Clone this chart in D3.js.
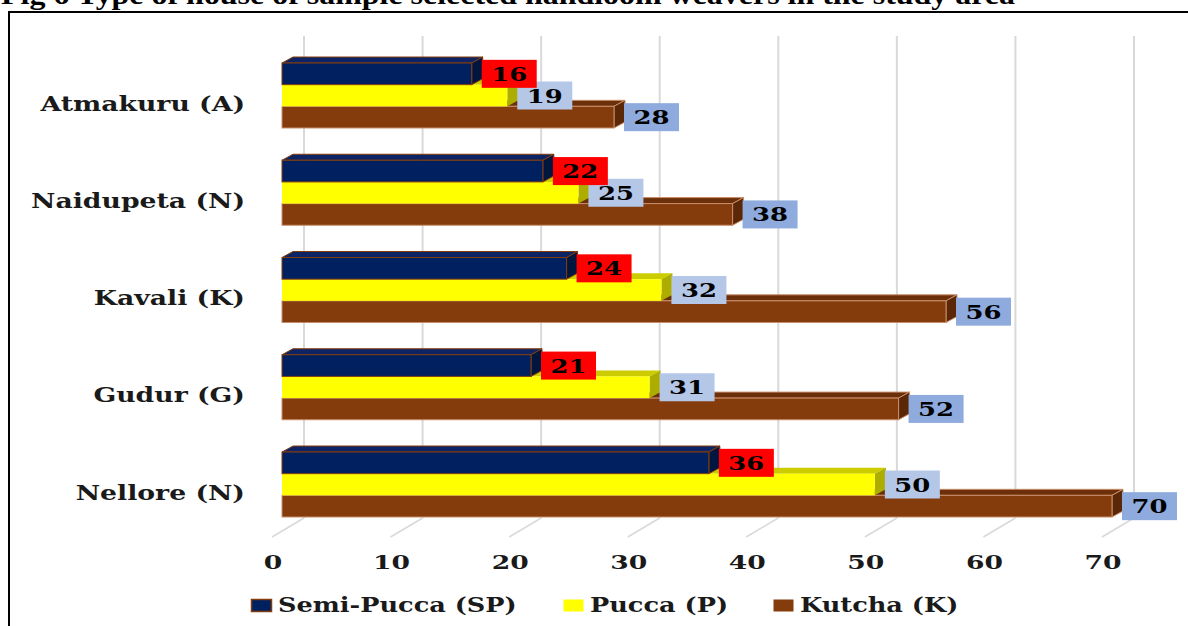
<!DOCTYPE html>
<html>
<head>
<meta charset="utf-8">
<script src="https://cdn.jsdelivr.net/npm/d3@7"></script>
<style>
  html, body { margin: 0; padding: 0; background: #fff; }
  svg { display: block; }
</style>
</head>
<body>
<div id="chart"></div>
<script>
var categories = ["Atmakuru (A)", "Naidupeta (N)", "Kavali (K)", "Gudur (G)", "Nellore (N)"];
var seriesNames = ["Semi-Pucca (SP)", "Pucca (P)", "Kutcha (K)"];
var semiPucca = [16, 22, 24, 21, 36];
var pucca = [19, 25, 32, 31, 50];
var kutcha = [28, 38, 56, 52, 70];
var tickValues = [0, 10, 20, 30, 40, 50, 60, 70];

var W = 1188, H = 626;
var depthX = 11, depthY = -6;      // 3d offset of the bars
var wallX = 22;                    // back wall offset from the bar front
var wordStretch = 1.22, catStretch = 1.27, digitStretch = 1.4;

var styles = [
    {front: "#002060", top: "#0d2464", side: "#00163f", stroke: "#843c0c", box: "#ff0000"},
    {front: "#ffff00", top: "#cccc00", side: "#adad00", stroke: "none", box: "#b4c7e7"},
    {front: "#843c0c", top: "#6b300a", side: "#5a2707", stroke: "#c98d6a", box: "#8faadc"}
];
var allSeries = [semiPucca, pucca, kutcha];

var svg = d3.select("#chart").append("svg")
    .attr("width", W)
    .attr("height", H);

// page title, only its lower part is visible
svg.append("text")
    .attr("x", 1)
    .attr("y", 4)
    .attr("textLength", 1014)
    .attr("lengthAdjust", "spacingAndGlyphs")
    .style("font-family", "'Liberation Serif', 'Times New Roman', serif")
    .style("font-weight", "bold")
    .style("font-size", "28px")
    .text("Fig 6 Type of house of sample selected handloom weavers in the study area");

// frame
svg.append("path")
    .attr("d", "M9," + H + "V12H" + W)
    .attr("fill", "none")
    .attr("stroke", "#000")
    .attr("stroke-width", 2);

var xScale = d3.scaleLinear().domain([0, 70]).range([282, 1112]);
var yScale = d3.scalePoint().domain(categories).range([95.5, 484.5]);
var inner = d3.scaleBand().domain(seriesNames).range([-32.5, 32.5]);

var g = svg.append("g");

// back wall grid lines and floor lines
g.selectAll(".grid")
    .data(tickValues)
    .enter()
    .append("line")
    .attr("class", "grid")
    .attr("x1", function (d) { return xScale(d) + wallX; })
    .attr("x2", function (d) { return xScale(d) + wallX; })
    .attr("y1", 36)
    .attr("y2", 518)
    .attr("stroke", "#d9d9d9")
    .attr("stroke-width", 2);

g.selectAll(".floor")
    .data(tickValues)
    .enter()
    .append("line")
    .attr("class", "floor")
    .attr("x1", function (d) { return xScale(d) + wallX; })
    .attr("x2", function (d) { return xScale(d) - 10; })
    .attr("y1", 518)
    .attr("y2", 537)
    .attr("stroke", "#d9d9d9")
    .attr("stroke-width", 1.5);

// bars, bottom series first so the upper ones cover the top faces
for (var s = allSeries.length - 1; s >= 0; s--) {
    var st = styles[s];
    var rows = categories.map(function (c, i) { return {cat: c, v: allSeries[s][i]}; });
    var bar = g.selectAll(".bar" + s)
        .data(rows)
        .enter()
        .append("g")
        .attr("class", "bar" + s);

    bar.append("path")
        .attr("d", function (d) {
            var x0 = xScale(0), x1 = xScale(d.v), y0 = yScale(d.cat) + inner(seriesNames[s]);
            return "M" + x0 + "," + y0 + "L" + (x0 + depthX) + "," + (y0 + depthY) +
                "L" + (x1 + depthX) + "," + (y0 + depthY) + "L" + x1 + "," + y0 + "Z";
        })
        .attr("fill", st.top)
        .attr("stroke", st.stroke)
        .attr("stroke-width", 1);

    bar.append("path")
        .attr("d", function (d) {
            var x1 = xScale(d.v), y0 = yScale(d.cat) + inner(seriesNames[s]), h = inner.bandwidth();
            return "M" + x1 + "," + y0 + "L" + (x1 + depthX) + "," + (y0 + depthY) +
                "L" + (x1 + depthX) + "," + (y0 + depthY + h) + "L" + x1 + "," + (y0 + h) + "Z";
        })
        .attr("fill", st.side)
        .attr("stroke", st.stroke)
        .attr("stroke-width", 1);

    bar.append("rect")
        .attr("x", xScale(0))
        .attr("y", function (d) { return yScale(d.cat) + inner(seriesNames[s]); })
        .attr("width", function (d) { return xScale(d.v) - xScale(0); })
        .attr("height", inner.bandwidth())
        .attr("fill", st.front)
        .attr("stroke", st.stroke)
        .attr("stroke-width", 1);
}

// value boxes
for (var k = allSeries.length - 1; k >= 0; k--) {
    var rowsL = categories.map(function (c, i) { return {cat: c, v: allSeries[k][i]}; });
    var lab = g.selectAll(".lab" + k)
        .data(rowsL)
        .enter()
        .append("g")
        .attr("class", "lab" + k)
        .attr("transform", function (d) {
            var cy = yScale(d.cat) + inner(seriesNames[k]) + inner.bandwidth() / 2;
            return "translate(" + (xScale(d.v) + 10) + "," + cy + ")";
        });

    lab.append("rect")
        .attr("x", 0)
        .attr("y", -14)
        .attr("width", 55)
        .attr("height", 28)
        .attr("fill", styles[k].box);

    lab.append("text")
        .attr("transform", "translate(27.5,7) scale(" + digitStretch + ",1)")
        .attr("text-anchor", "middle")
        .style("font-family", "'DejaVu Serif', serif")
        .style("font-weight", "bold")
        .style("font-size", "18.5px")
        .attr("fill", "#000")
        .text(function (d) { return d.v; });
}

// category labels
g.selectAll(".cat")
    .data(categories)
    .enter()
    .append("text")
    .attr("class", "cat")
    .attr("transform", function (d) { return "translate(245," + (yScale(d) + 15) + ") scale(" + catStretch + ",1)"; })
    .attr("text-anchor", "end")
    .style("font-family", "'DejaVu Serif', serif")
    .style("font-weight", "bold")
    .style("font-size", "21px")
    .attr("fill", "#1a1a1a")
    .text(function (d) { return d; });

// x tick labels
g.selectAll(".tick")
    .data(tickValues)
    .enter()
    .append("text")
    .attr("class", "tick")
    .attr("transform", function (d) { return "translate(" + (xScale(d) - 9) + ",569) scale(" + digitStretch + ",1)"; })
    .attr("text-anchor", "middle")
    .style("font-family", "'DejaVu Serif', serif")
    .style("font-weight", "bold")
    .style("font-size", "19px")
    .attr("fill", "#1a1a1a")
    .text(function (d) { return d; });

// legend
var legendX = [251, 563, 773];
var legend = g.selectAll(".legend")
    .data(seriesNames)
    .enter()
    .append("g")
    .attr("class", "legend")
    .attr("transform", function (d, i) { return "translate(" + legendX[i] + ",599)"; });

legend.append("rect")
    .attr("x", 0.5)
    .attr("y", 0.5)
    .attr("width", 20)
    .attr("height", 12)
    .attr("fill", function (d, i) { return styles[i].front; })
    .attr("stroke", function (d, i) { return i === 0 ? "#843c0c" : "none"; })
    .attr("stroke-width", 1.5);

legend.append("text")
    .attr("transform", "translate(27,13) scale(" + wordStretch + ",1)")
    .style("font-family", "'DejaVu Serif', serif")
    .style("font-weight", "bold")
    .style("font-size", "21px")
    .attr("fill", "#1a1a1a")
    .text(function (d) { return d; });
</script>
</body>
</html>
